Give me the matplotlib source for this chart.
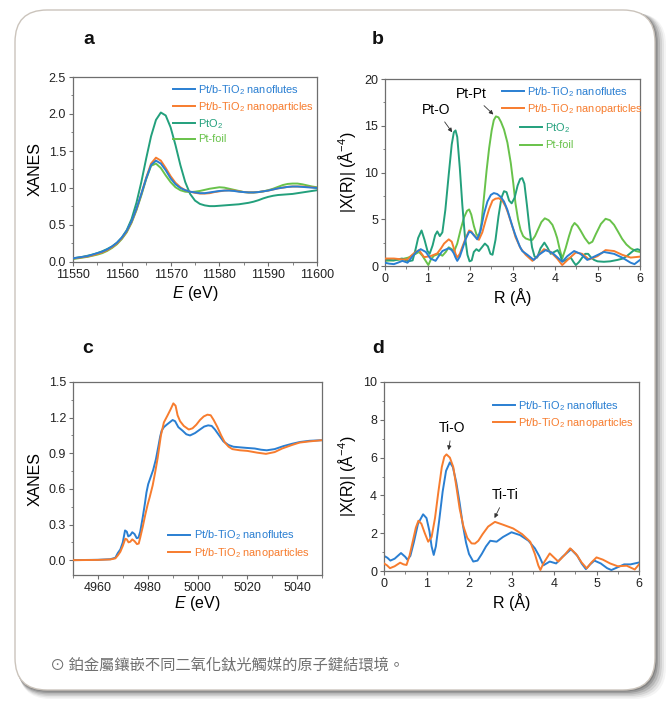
import matplotlib
matplotlib.use("Agg")
import matplotlib.pyplot as plt
from matplotlib.patches import FancyBboxPatch
from matplotlib.ticker import MultipleLocator, FormatStrFormatter

plt.rcParams['font.family'] = ['Liberation Sans', 'DejaVu Sans']
plt.rcParams['mathtext.fontset'] = 'custom'
plt.rcParams['mathtext.rm'] = 'Liberation Sans'
plt.rcParams['mathtext.it'] = 'Liberation Sans:italic'
plt.rcParams['mathtext.default'] = 'regular'

# ---------------- colours ----------------
C_BLUE = '#2a7fd2'
C_ORANGE = '#f77c2e'
C_TEAL = '#23a07c'
C_GREEN = '#68c24a'

# ---------------- data: panel a (Pt L3 XANES) ----------------
E_a = [11550, 11551, 11552, 11553, 11554, 11555, 11556, 11557, 11558, 11559,
       11560, 11561, 11562, 11563, 11564, 11565, 11566, 11567, 11568, 11569,
       11570, 11571, 11572, 11573, 11574, 11575, 11576, 11577, 11578, 11579,
       11580, 11581, 11582, 11583, 11584, 11585, 11586, 11587, 11588, 11589,
       11590, 11591, 11592, 11593, 11594, 11595, 11596, 11597, 11598, 11599, 11600]
a_flutes = [0.05, 0.06, 0.07, 0.08, 0.10, 0.12, 0.14, 0.17, 0.21, 0.26,
            0.33, 0.42, 0.55, 0.72, 0.92, 1.13, 1.31, 1.37, 1.33, 1.24,
            1.13, 1.05, 1.00, 0.97, 0.95, 0.94, 0.93, 0.93, 0.94, 0.95,
            0.96, 0.965, 0.965, 0.96, 0.95, 0.945, 0.94, 0.94, 0.945, 0.955,
            0.965, 0.98, 0.995, 1.005, 1.015, 1.02, 1.02, 1.015, 1.01, 1.005, 1.0]
a_particles = [0.05, 0.055, 0.065, 0.075, 0.09, 0.11, 0.13, 0.16, 0.20, 0.25,
               0.32, 0.41, 0.54, 0.71, 0.92, 1.14, 1.33, 1.41, 1.37, 1.27,
               1.16, 1.07, 1.01, 0.97, 0.95, 0.935, 0.925, 0.925, 0.93, 0.945,
               0.955, 0.965, 0.97, 0.965, 0.955, 0.945, 0.94, 0.94, 0.945, 0.955,
               0.965, 0.98, 0.995, 1.005, 1.015, 1.02, 1.02, 1.02, 1.015, 1.01, 1.0]
a_pto2 = [0.05, 0.06, 0.07, 0.085, 0.10, 0.12, 0.145, 0.175, 0.21, 0.26,
          0.33, 0.43, 0.58, 0.80, 1.08, 1.40, 1.70, 1.92, 2.02, 1.98,
          1.82, 1.58, 1.31, 1.08, 0.92, 0.83, 0.785, 0.765, 0.755, 0.755,
          0.76, 0.765, 0.77, 0.775, 0.78, 0.79, 0.80, 0.815, 0.835, 0.86,
          0.88, 0.895, 0.905, 0.91, 0.915, 0.92, 0.93, 0.94, 0.95, 0.96, 0.97]
a_foil = [0.04, 0.05, 0.06, 0.07, 0.085, 0.10, 0.12, 0.15, 0.19, 0.24,
          0.31, 0.40, 0.53, 0.70, 0.90, 1.12, 1.30, 1.33, 1.27, 1.17,
          1.08, 1.01, 0.97, 0.95, 0.945, 0.95, 0.96, 0.975, 0.99, 1.0,
          1.01, 1.005, 0.99, 0.975, 0.96, 0.945, 0.94, 0.94, 0.945, 0.955,
          0.97, 0.99, 1.015, 1.04, 1.055, 1.06, 1.06, 1.05, 1.035, 1.02, 1.01]

# ---------------- data: panel b (Pt FT-EXAFS) ----------------
R_b_pto2 = [0, 0.2, 0.4, 0.55, 0.65, 0.72, 0.78, 0.86, 0.93, 1.0, 1.05, 1.12, 1.18, 1.23,
            1.29, 1.35, 1.42, 1.5, 1.57, 1.62, 1.66, 1.70, 1.76, 1.82, 1.88, 1.94, 1.99,
            2.04, 2.09, 2.15, 2.21, 2.28, 2.35, 2.42, 2.48, 2.53, 2.6, 2.67, 2.74, 2.8,
            2.86, 2.92, 2.98, 3.05, 3.12, 3.18, 3.23, 3.28, 3.34, 3.4, 3.46, 3.52, 3.58,
            3.66, 3.75, 3.82, 3.9, 3.98, 4.06, 4.12, 4.17, 4.25, 4.37, 4.44, 4.49, 4.56,
            4.64, 4.71, 4.78, 4.85, 4.92, 5.0, 5.15, 5.3, 5.47, 5.6, 5.7, 5.78, 5.86,
            5.94, 6.0]
b_pto2 = [0.7, 0.6, 0.8, 0.5, 0.6, 1.8, 3.0, 3.8, 2.8, 1.6, 1.3, 2.2, 3.3, 3.7,
          3.2, 3.6, 6.0, 9.8, 13.0, 14.3, 14.5, 13.8, 10.5, 6.5, 3.2, 1.2, 0.5,
          0.6, 1.5, 1.8, 1.6, 2.0, 2.4, 2.1, 1.3, 1.2, 2.8, 5.3, 7.3, 8.0,
          7.9, 7.0, 6.7, 7.3, 8.6, 9.3, 9.4, 8.8, 6.5, 4.0, 2.0, 1.0, 0.9,
          1.9, 2.5, 2.0, 1.3, 1.5, 1.7, 1.2, 0.5, 0.6, 0.9, 0.4, 0.1, 0.4,
          0.9, 1.3, 1.3, 0.9, 0.65, 0.5, 0.45, 0.5, 0.65, 0.8, 1.1, 1.4, 1.7,
          1.8, 1.7]

R_b_foil = [0, 0.2, 0.37, 0.55, 0.68, 0.8, 0.88, 0.95, 1.02, 1.08, 1.15, 1.27, 1.35, 1.43,
            1.5, 1.57, 1.63, 1.7, 1.78, 1.86, 1.93, 1.98, 2.03, 2.09, 2.15, 2.21, 2.27,
            2.33, 2.39, 2.45, 2.51, 2.56, 2.61, 2.67, 2.73, 2.8, 2.88, 2.96, 3.02, 3.07,
            3.13, 3.19, 3.25, 3.31, 3.4, 3.47, 3.53, 3.6, 3.68, 3.76, 3.85, 3.94, 4.0,
            4.05, 4.11, 4.17, 4.25, 4.33, 4.4, 4.46, 4.53, 4.6, 4.7, 4.8, 4.88, 4.96,
            5.08, 5.19, 5.29, 5.39, 5.48, 5.58, 5.68, 5.78, 5.9, 6.0]
b_foil = [0.55, 0.6, 0.7, 0.9, 1.2, 1.5, 1.1, 0.6, 0.1, 0.7, 1.1, 1.3, 1.1, 1.5,
          2.0, 1.8, 1.6, 2.4, 3.9, 5.2, 5.9, 6.05, 5.5, 4.3, 3.4, 3.1, 4.6,
          7.4, 10.2, 12.6, 14.5, 15.6, 16.0, 15.9, 15.4, 14.6, 13.2, 11.0, 8.8, 6.7,
          5.0, 3.85, 3.2, 2.95, 2.8, 2.8, 3.2, 3.9, 4.7, 5.1, 4.9, 4.4, 3.7,
          3.0, 1.8, 0.8, 1.9, 3.2, 4.2, 4.6, 4.3, 3.8, 3.0, 2.4, 2.6, 3.4,
          4.5, 5.05, 4.9, 4.4, 3.7, 2.9, 2.3, 1.9, 1.6, 1.5]

R_b_flutes = [0, 0.1, 0.21, 0.3, 0.41, 0.53, 0.64, 0.74, 0.84, 0.96, 1.07, 1.19, 1.27, 1.35,
              1.5, 1.57, 1.62, 1.66, 1.7, 1.76, 1.82, 1.9, 1.98, 2.03, 2.09, 2.17, 2.25,
              2.33, 2.41, 2.49, 2.56, 2.64, 2.72, 2.8, 2.88, 2.94, 3.0, 3.06, 3.11, 3.17,
              3.23, 3.35, 3.5, 3.62, 3.78, 3.94, 4.05, 4.17, 4.29, 4.45, 4.6, 4.76, 4.92,
              5.15, 5.39, 5.58, 5.78, 5.87, 6.0]
b_flutes = [0.35, 0.25, 0.2, 0.35, 0.55, 0.35, 1.0, 1.5, 1.8, 1.5, 0.8, 0.55, 1.1, 1.6,
            1.9, 1.7, 1.35, 0.9, 0.55, 1.0, 1.8, 2.9, 3.65, 3.6, 3.3, 2.85, 3.8,
            5.6, 6.9, 7.6, 7.8, 7.7, 7.4, 6.9, 6.0, 5.1, 4.2, 3.4, 2.8, 2.1,
            1.6, 1.2, 0.65, 1.2, 1.7, 1.4, 0.95, 0.45, 1.05, 1.6, 1.3, 0.65, 1.0,
            1.5, 1.3, 0.9, 0.35, 0.2, 0.65]

R_b_particles = [0, 0.21, 0.41, 0.53, 0.64, 0.72, 0.8, 0.92, 1.07, 1.23, 1.32, 1.39, 1.5,
                 1.57, 1.62, 1.66, 1.7, 1.76, 1.82, 1.9, 1.98, 2.03, 2.09, 2.21, 2.29,
                 2.37, 2.45, 2.53, 2.6, 2.68, 2.76, 2.84, 2.9, 2.96, 3.02, 3.07, 3.13,
                 3.19, 3.31, 3.47, 3.58, 3.74, 3.9, 4.05, 4.17, 4.33, 4.49, 4.64, 4.8,
                 5.0, 5.19, 5.39, 5.58, 5.78, 6.0]
b_particles = [0.8, 0.8, 0.7, 0.7, 1.2, 1.5, 1.7, 0.95, 1.05, 1.35, 1.9, 2.4, 2.85,
               2.6, 1.9, 1.3, 0.9, 1.3, 2.05, 3.0, 3.8, 3.7, 3.3, 2.8, 3.6,
               4.9, 6.1, 7.0, 7.2, 7.25, 7.0, 6.35, 5.6, 4.75, 3.9, 3.1, 2.5,
               1.9, 1.2, 0.55, 1.0, 1.8, 1.5, 0.8, 0.1, 0.8, 1.45, 1.3, 0.7,
               1.05, 1.7, 1.6, 1.2, 0.9, 1.0]

# ---------------- data: panel c (Ti K XANES) ----------------
E_c_flutes = [4950, 4960, 4965, 4967, 4968, 4969, 4970, 4970.9, 4971.6, 4972.2, 4973,
              4973.8, 4974.7, 4975.6, 4976.3, 4977, 4978, 4978.9, 4979.5, 4980.2, 4981.2,
              4982.2, 4983.3, 4984.3, 4985, 4985.6, 4986.5, 4987.6, 4988.8, 4990, 4991,
              4992.3, 4994, 4995.5, 4997, 4999, 5001, 5002.7, 5004.3, 5005.7, 5007,
              5008.7, 5010.4, 5012.4, 5014.4, 5017, 5019.8, 5023, 5025.5, 5027.8, 5031,
              5034.5, 5038, 5041.2, 5045, 5050]
c_flutes = [0.0, 0.003, 0.008, 0.02, 0.06, 0.09, 0.15, 0.25, 0.24, 0.20, 0.21,
            0.235, 0.22, 0.185, 0.19, 0.24, 0.36, 0.48, 0.57, 0.64, 0.70,
            0.76, 0.85, 0.96, 1.04, 1.09, 1.12, 1.14, 1.16, 1.18, 1.17,
            1.12, 1.09, 1.06, 1.05, 1.07, 1.10, 1.125, 1.135, 1.13, 1.10,
            1.05, 1.00, 0.97, 0.955, 0.95, 0.945, 0.94, 0.93, 0.925, 0.935,
            0.96, 0.98, 0.995, 1.005, 1.01]
E_c_particles = [4950, 4960, 4965, 4967, 4968, 4969, 4970, 4971, 4971.6, 4972.3, 4973,
                 4973.8, 4974.7, 4975.7, 4976.4, 4977, 4978, 4979, 4980, 4980.8, 4982,
                 4983, 4984, 4985.3, 4986.5, 4988, 4989.2, 4990.3, 4991.2, 4992, 4993,
                 4994.5, 4996.5, 4998, 4999.5, 5001, 5002.5, 5004, 5005.3, 5006.5, 5008,
                 5009.5, 5011, 5012.5, 5014, 5017, 5020, 5024, 5027.5, 5031, 5034,
                 5038, 5041, 5045, 5050]
c_particles = [0.0, 0.002, 0.006, 0.015, 0.04, 0.07, 0.12, 0.18, 0.175, 0.15, 0.155,
               0.175, 0.16, 0.135, 0.14, 0.19, 0.28, 0.38, 0.47, 0.53, 0.63,
               0.74, 0.86, 1.05, 1.16, 1.22, 1.27, 1.32, 1.30, 1.22, 1.17,
               1.13, 1.10, 1.11, 1.14, 1.18, 1.21, 1.225, 1.22, 1.18, 1.12,
               1.05, 0.99, 0.955, 0.935, 0.925, 0.92, 0.905, 0.895, 0.91, 0.94,
               0.97, 0.99, 1.0, 1.01]

# ---------------- data: panel d (Ti FT-EXAFS) ----------------
R_d_flutes = [0, 0.08, 0.15, 0.25, 0.4, 0.5, 0.55, 0.62, 0.7, 0.8, 0.92, 1.0, 1.07, 1.12,
              1.17, 1.22, 1.3, 1.38, 1.46, 1.55, 1.62, 1.7, 1.78, 1.85, 1.93, 2.0, 2.1,
              2.2, 2.3, 2.4, 2.5, 2.65, 2.8, 3.0, 3.2, 3.4, 3.55, 3.65, 3.75, 3.9, 4.05,
              4.2, 4.4, 4.55, 4.65, 4.75, 4.85, 4.95, 5.1, 5.25, 5.35, 5.5, 5.65, 5.8, 6.0]
d_flutes = [0.8, 0.7, 0.55, 0.65, 0.95, 0.75, 0.6, 0.8, 1.5, 2.5, 3.0, 2.8, 2.1, 1.3,
            0.85, 1.3, 2.7, 4.2, 5.3, 5.75, 5.5, 4.7, 3.6, 2.5, 1.5, 0.9, 0.5,
            0.55, 0.9, 1.3, 1.6, 1.55, 1.8, 2.05, 1.9, 1.6, 1.2, 0.8, 0.3, 0.5, 0.4,
            0.75, 1.15, 0.8, 0.4, 0.1, 0.35, 0.55, 0.4, 0.15, 0.05, 0.2, 0.35, 0.35, 0.45]
R_d_particles = [0, 0.07, 0.14, 0.25, 0.38, 0.46, 0.53, 0.6, 0.68, 0.75, 0.81, 0.88, 0.96,
                 1.04, 1.12, 1.2, 1.28, 1.36, 1.42, 1.47, 1.55, 1.63, 1.7, 1.78, 1.87,
                 1.96, 2.06, 2.14, 2.22, 2.32, 2.45, 2.61, 2.8, 3.04, 3.25, 3.44, 3.55,
                 3.63, 3.68, 3.75, 3.9, 4.1, 4.25, 4.38, 4.52, 4.65, 4.77, 4.88, 5.0,
                 5.15, 5.32, 5.5, 5.71, 5.9, 6.0]
d_particles = [0.4, 0.3, 0.15, 0.25, 0.44, 0.35, 0.32, 0.8, 1.6, 2.3, 2.66, 2.5, 2.0,
               1.55, 1.8, 2.8, 4.2, 5.5, 6.05, 6.17, 6.0, 5.5, 4.5, 3.3, 2.35,
               1.75, 1.46, 1.45, 1.6, 1.95, 2.35, 2.6, 2.45, 2.25, 1.95, 1.55, 0.9,
               0.3, 0.05, 0.4, 0.93, 0.5, 0.85, 1.2, 0.9, 0.45, 0.14, 0.45, 0.72,
               0.6, 0.4, 0.25, 0.28, 0.08, 0.35]

labels_pt = ['Pt/b-TiO$_2$ nanoflutes', 'Pt/b-TiO$_2$ nanoparticles', 'PtO$_2$', 'Pt-foil']
caption = '⊙ 鉑金屬鑲嵌不同二氧化鈦光觸媒的原子鍵結環境。'

# ---------------- figure & card ----------------
W, H = 670, 704
fig = plt.figure(figsize=(W / 100, H / 100), dpi=100)
fig.patch.set_facecolor('white')

def px_box(x0, y0_top, x1, y1_bottom):
    return x0 / 100, (H - y1_bottom) / 100, (x1 - x0) / 100, (y1_bottom - y0_top) / 100

# shadow layers (right / bottom)
shadow_layers = [(11, 9, 0.06), (9, 7.5, 0.09), (7, 6, 0.13), (5, 4.5, 0.18), (3, 3, 0.25), (1.5, 1.5, 0.3)]
for i, (dx, dy, a) in enumerate(shadow_layers):
    x, y, w, h = px_box(15 + dx * 0.35, 10 + dy * 0.35, 655 + dx, 690 + dy)
    sh = FancyBboxPatch((x, y), w, h, boxstyle='round,pad=0,rounding_size=0.32',
                        transform=fig.dpi_scale_trans, facecolor='#4a4a4a',
                        edgecolor='none', alpha=a, zorder=-20 + i)
    fig.patches.append(sh)
x, y, w, h = px_box(15, 10, 655, 690)
card = FancyBboxPatch((x, y), w, h, boxstyle='round,pad=0,rounding_size=0.32',
                      transform=fig.dpi_scale_trans, facecolor='white',
                      edgecolor='#cbc4bc', linewidth=1.0, zorder=-5)
fig.patches.append(card)

def ax_at(l, t, r, b):
    return fig.add_axes([l / W, 1 - b / H, (r - l) / W, (b - t) / H])

def style(ax):
    for s in ax.spines.values():
        s.set_color('#6e6e6e')
        s.set_linewidth(0.9)
    ax.tick_params(which='both', direction='out', colors='#6e6e6e',
                   labelcolor='#222222', labelsize=9, top=False, right=False, pad=2)
    ax.tick_params(which='major', length=3, width=0.8)
    ax.tick_params(which='minor', length=1.8, width=0.6)
    ax.set_facecolor('white')

LW = 1.4
LEG = dict(frameon=False, fontsize=7.9, handlelength=2.0, handletextpad=0.3,
           borderpad=0, borderaxespad=0, labelspacing=0.3)
AXLAB = 11.5
ANN = 10

# ---- panel a ----
axa = ax_at(73, 77, 317, 262)
style(axa)
la1, = axa.plot(E_a, a_flutes, color=C_BLUE, lw=LW, zorder=4)
la2, = axa.plot(E_a, a_particles, color=C_ORANGE, lw=LW, zorder=3)
la3, = axa.plot(E_a, a_pto2, color=C_TEAL, lw=LW, zorder=2)
la4, = axa.plot(E_a, a_foil, color=C_GREEN, lw=LW, zorder=1)
axa.set_xlim(11550, 11600)
axa.set_ylim(0, 2.5)
axa.xaxis.set_major_locator(MultipleLocator(10))
axa.xaxis.set_minor_locator(MultipleLocator(5))
axa.yaxis.set_major_locator(MultipleLocator(0.5))
axa.yaxis.set_minor_locator(MultipleLocator(0.25))
axa.set_xlabel(r'$\mathit{E}$ (eV)', fontsize=AXLAB, labelpad=2)
axa.set_ylabel('XANES', fontsize=AXLAB, labelpad=4)
leg = axa.legend([la1, la2, la3, la4], labels_pt, loc='upper left',
                 bbox_to_anchor=(0.41, 0.968), **LEG)
for t, c in zip(leg.get_texts(), [C_BLUE, C_ORANGE, C_TEAL, C_GREEN]):
    t.set_color(c)

# ---- panel b ----
axb = ax_at(385, 79, 640, 266)
style(axb)
lb1, = axb.plot(R_b_flutes, b_flutes, color=C_BLUE, lw=LW, zorder=4)
lb2, = axb.plot(R_b_particles, b_particles, color=C_ORANGE, lw=LW, zorder=3)
lb3, = axb.plot(R_b_pto2, b_pto2, color=C_TEAL, lw=LW, zorder=2)
lb4, = axb.plot(R_b_foil, b_foil, color=C_GREEN, lw=LW, zorder=1)
axb.set_xlim(0, 6)
axb.set_ylim(0, 20)
axb.xaxis.set_major_locator(MultipleLocator(1))
axb.xaxis.set_minor_locator(MultipleLocator(0.5))
axb.yaxis.set_major_locator(MultipleLocator(5))
axb.yaxis.set_minor_locator(MultipleLocator(2.5))
axb.set_xlabel('R (Å)', fontsize=AXLAB, labelpad=2)
axb.set_ylabel('|X(R)| (Å$^{-4}$)', fontsize=AXLAB, labelpad=4)
legb1 = axb.legend([lb1, lb2], labels_pt[:2], loc='upper left',
                   bbox_to_anchor=(0.459, 0.968), **LEG)
for t, c in zip(legb1.get_texts(), [C_BLUE, C_ORANGE]):
    t.set_color(c)
axb.add_artist(legb1)
LEG2 = dict(LEG)
LEG2['labelspacing'] = 0.5
legb2 = axb.legend([lb3, lb4], labels_pt[2:], loc='upper left',
                   bbox_to_anchor=(0.529, 0.775), **LEG2)
for t, c in zip(legb2.get_texts(), [C_TEAL, C_GREEN]):
    t.set_color(c)
arr = dict(arrowstyle='-|>', color='#333333', lw=0.6, mutation_scale=6, shrinkA=2, shrinkB=0)
axb.annotate('Pt-O', xy=(1.58, 14.3), xytext=(1.2, 16.7), ha='center', va='center',
             fontsize=ANN, arrowprops=arr)
axb.annotate('Pt-Pt', xy=(2.55, 16.2), xytext=(2.04, 18.4), ha='center', va='center',
             fontsize=ANN, arrowprops=arr)

# ---- panel c ----
axc = ax_at(73, 382, 322, 575)
style(axc)
lc1, = axc.plot(E_c_flutes, c_flutes, color=C_BLUE, lw=LW, zorder=2)
lc2, = axc.plot(E_c_particles, c_particles, color=C_ORANGE, lw=LW, zorder=3)
axc.set_xlim(4950, 5050)
axc.set_ylim(-0.125, 1.5)
axc.xaxis.set_major_locator(MultipleLocator(20))
axc.xaxis.set_minor_locator(MultipleLocator(10))
axc.yaxis.set_major_locator(MultipleLocator(0.3))
axc.yaxis.set_minor_locator(MultipleLocator(0.15))
axc.yaxis.set_major_formatter(FormatStrFormatter('%.1f'))
axc.set_xlabel(r'$\mathit{E}$ (eV)', fontsize=AXLAB, labelpad=0)
axc.set_ylabel('XANES', fontsize=AXLAB, labelpad=4)
legc = axc.legend([lc1, lc2], labels_pt[:2], loc='upper left',
                  bbox_to_anchor=(0.383, 0.24), **LEG)
for t, c in zip(legc.get_texts(), [C_BLUE, C_ORANGE]):
    t.set_color(c)

# ---- panel d ----
axd = ax_at(384, 382, 639, 571)
style(axd)
ld1, = axd.plot(R_d_flutes, d_flutes, color=C_BLUE, lw=LW, zorder=2)
ld2, = axd.plot(R_d_particles, d_particles, color=C_ORANGE, lw=LW, zorder=3)
axd.set_xlim(0, 6)
axd.set_ylim(0, 10)
axd.xaxis.set_major_locator(MultipleLocator(1))
axd.xaxis.set_minor_locator(MultipleLocator(0.5))
axd.yaxis.set_major_locator(MultipleLocator(2))
axd.yaxis.set_minor_locator(MultipleLocator(1))
axd.set_xlabel('R (Å)', fontsize=AXLAB, labelpad=2)
axd.set_ylabel('|X(R)| (Å$^{-4}$)', fontsize=AXLAB, labelpad=4)
legd = axd.legend([ld1, ld2], labels_pt[:2], loc='upper left',
                  bbox_to_anchor=(0.427, 0.91), **LEG)
for t, c in zip(legd.get_texts(), [C_BLUE, C_ORANGE]):
    t.set_color(c)
axd.annotate('Ti-O', xy=(1.52, 6.4), xytext=(1.6, 7.55), ha='center', va='center',
             fontsize=ANN, arrowprops=arr)
axd.annotate('Ti-Ti', xy=(2.6, 2.8), xytext=(2.86, 4.0), ha='center', va='center',
             fontsize=ANN, arrowprops=arr)

# ---- panel letters ----
for lx, ly, s in [(89, 39, 'a'), (378, 39, 'b'), (88, 348, 'c'), (378, 348, 'd')]:
    fig.text(lx / W, 1 - ly / H, s, fontsize=14, fontweight='bold',
             ha='center', va='center', color='#111111')

# ---- caption ----
fig.text(50 / W, 1 - 665 / H, caption, fontsize=11, color='#707070',
         ha='left', va='center', family=['Noto Sans CJK TC', 'DejaVu Sans'])

fig.savefig('out.png', dpi=100, facecolor=fig.get_facecolor())
